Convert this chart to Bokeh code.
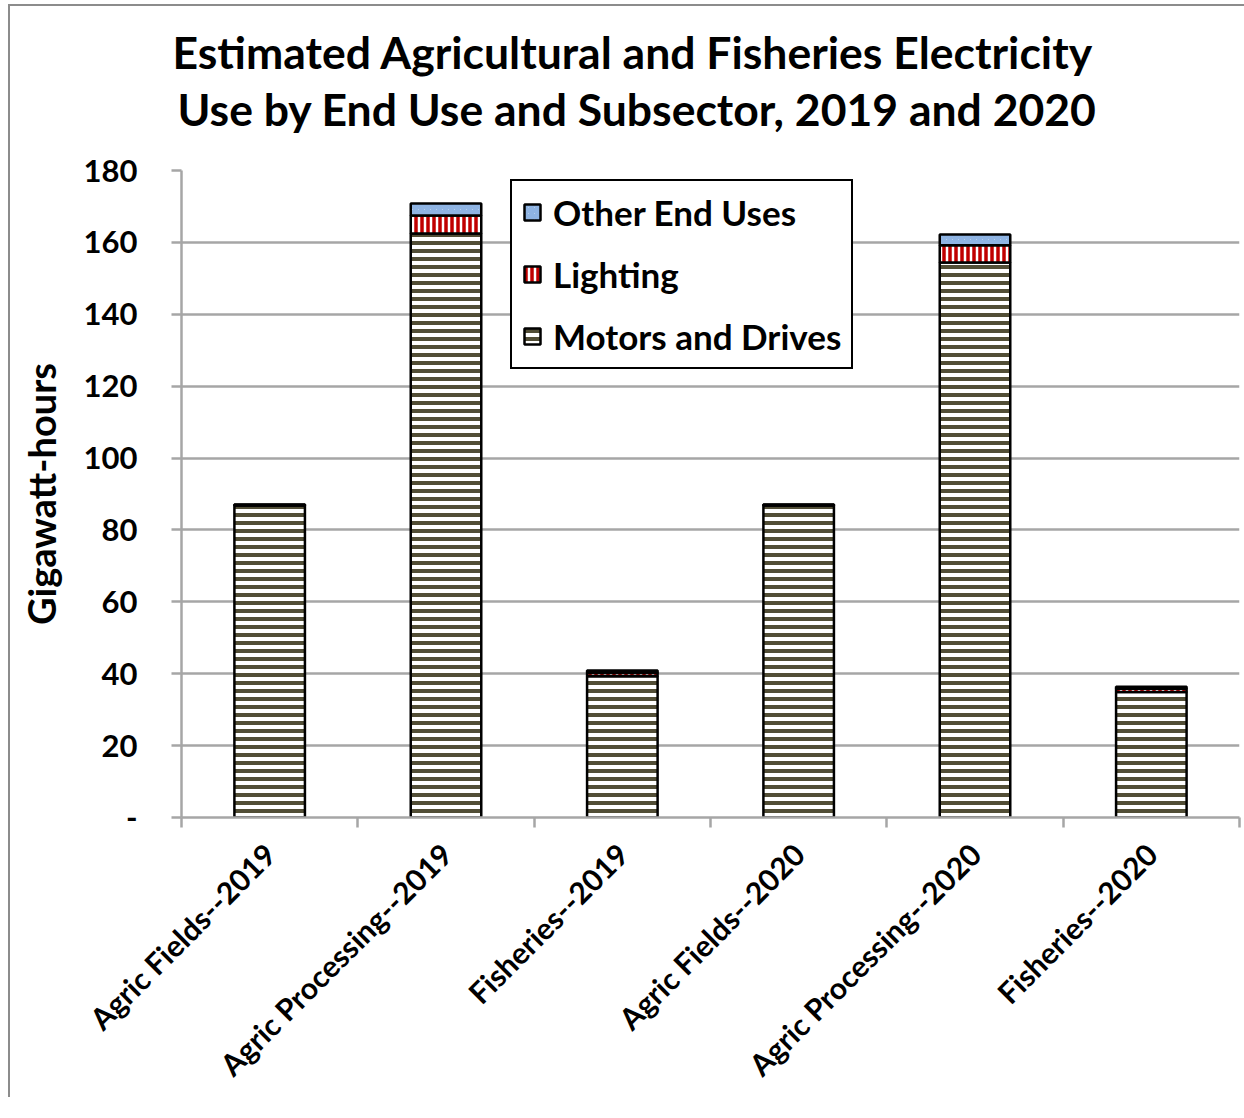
import math
from bokeh.plotting import figure
from bokeh.models import ColumnDataSource, FixedTicker, Legend, LegendItem, Title, Range1d
from bokeh.embed import file_html
from bokeh.resources import INLINE

# Subsector / year categories and electricity use (GWh) by end use
categories = ["Agric Fields--2019", "Agric Processing--2019", "Fisheries--2019",
              "Agric Fields--2020", "Agric Processing--2020", "Fisheries--2020"]
motors = [86.8, 162.5, 39.3, 86.8, 154.4, 34.9]
lighting = [0.2, 5.0, 0.9, 0.2, 4.8, 0.9]
other = [0.1, 3.3, 0.7, 0.1, 3.0, 0.6]
series = ["Motors and Drives", "Lighting", "Other End Uses"]
y_ticks = [0, 20, 40, 60, 80, 100, 120, 140, 160, 180]

FONT = "Lato"
GRID = "#a6a6a6"

xs = [i + 0.5 for i in range(len(categories))]
source = ColumnDataSource(dict(x=xs, motors=motors, lighting=lighting, other=other))

p = figure(frame_width=1058, frame_height=647,
           x_range=Range1d(0, len(categories)), y_range=Range1d(y_ticks[0], y_ticks[-1]),
           output_backend="svg", toolbar_location=None,
           min_border_left=171, min_border_top=164, min_border_right=5, min_border_bottom=280)
p.margin = (4, 0, 0, 8)
p.styles = {"border-left": "2px solid #8c8c8c", "border-top": "2px solid #8c8c8c"}
p.outline_line_color = None
p.background_fill_color = "white"
p.border_fill_color = "white"

# two-line title, outer line added last
t2 = Title(text="Use by End Use and Subsector, 2019 and 2020", align="left", offset=-4,
           standoff=72,
           text_font=FONT, text_font_size="44.5px", text_font_style="bold", text_color="black")
t1 = Title(text="Estimated Agricultural and Fisheries Electricity", align="left", offset=-9,
           standoff=-68,
           text_font=FONT, text_font_size="44.5px", text_font_style="bold", text_color="black")
p.add_layout(t2, "above")
p.add_layout(t1, "above")

renderers = p.vbar_stack(
    ["motors", "lighting", "other"], x="x", width=0.4, source=source,
    fill_color="white", line_color="black", line_width=2.5,
    hatch_pattern=["horizontal_line", "vertical_line", "left_diagonal_line"],
    hatch_color=["#524e36", "#c00000", "#8fb4e3"],
    hatch_weight=[4, 3.5, 3],
    hatch_scale=[8, 6, 6],
)

legend = Legend(items=[LegendItem(label=series[i], renderers=[renderers[i]]) for i in (2, 1, 0)],
                location=(329, 448), margin=0, padding=10, spacing=20,
                glyph_width=20, glyph_height=20, label_height=40, label_standoff=11,
                label_text_font=FONT, label_text_font_size="35px", label_text_font_style="bold",
                label_text_color="black",
                border_line_color="black", border_line_width=2, border_line_alpha=1,
                background_fill_color="white", background_fill_alpha=1)
p.add_layout(legend, "center")

# y axis
p.yaxis.ticker = FixedTicker(ticks=y_ticks)
p.yaxis.major_label_overrides = {0: "-"}
p.yaxis.axis_label = "Gigawatt-hours"
p.yaxis.axis_label_text_font = FONT
p.yaxis.axis_label_text_font_size = "38px"
p.yaxis.axis_label_text_font_style = "bold"
p.yaxis.axis_label_text_color = "black"
p.yaxis.axis_label_standoff = 17
p.yaxis.major_label_text_font = FONT
p.yaxis.major_label_text_font_size = "31px"
p.yaxis.major_label_text_font_style = "bold"
p.yaxis.major_label_text_color = "black"
p.yaxis.major_label_standoff = 34
p.yaxis.major_tick_out = 10
p.yaxis.major_tick_in = 0
p.yaxis.minor_tick_line_color = None
p.yaxis.axis_line_color = GRID
p.yaxis.axis_line_width = 2.5
p.yaxis.major_tick_line_color = GRID
p.yaxis.major_tick_line_width = 2.5

# x axis: labels at bar centres, tick marks between categories
p.xaxis.ticker = FixedTicker(ticks=xs, minor_ticks=list(range(len(categories) + 1)))
p.xaxis.major_label_overrides = {x: c for x, c in zip(xs, categories)}
p.xaxis.major_label_orientation = math.pi / 4
p.xaxis.major_label_text_font = FONT
p.xaxis.major_label_text_font_size = "30px"
p.xaxis.major_label_text_font_style = "bold"
p.xaxis.major_label_text_color = "black"
p.xaxis.major_label_standoff = 21
p.xaxis.major_tick_line_color = None
p.xaxis.major_tick_out = 0
p.xaxis.major_tick_in = 0
p.xaxis.minor_tick_out = 10
p.xaxis.minor_tick_in = 0
p.xaxis.minor_tick_line_color = GRID
p.xaxis.minor_tick_line_width = 2.5
p.xaxis.axis_line_color = GRID
p.xaxis.axis_line_width = 2.5

p.xgrid.grid_line_color = None
p.ygrid.ticker = FixedTicker(ticks=y_ticks[1:])
p.ygrid.grid_line_color = GRID
p.ygrid.grid_line_width = 2.5

open("out.html", "w").write(file_html(p, INLINE))
